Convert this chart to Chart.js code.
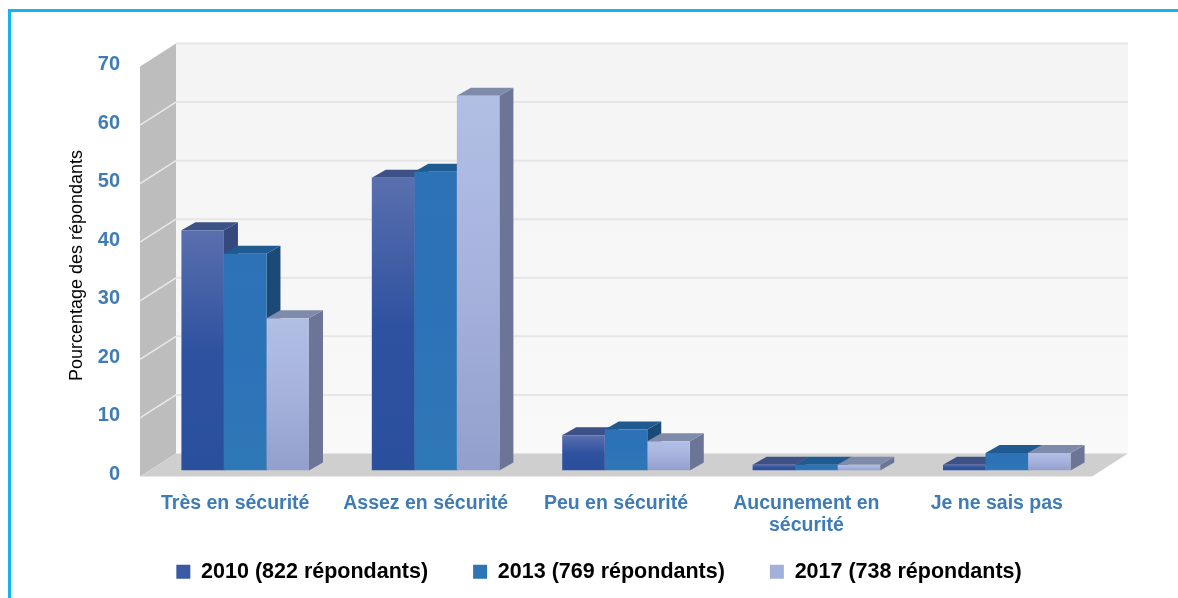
<!DOCTYPE html>
<html lang="fr">
<head>
<meta charset="UTF-8">
<title>Pourcentage des répondants</title>
<script src="https://cdn.jsdelivr.net/npm/chart.js@4.4.0/dist/chart.umd.min.js"></script>
<style>
html,body{margin:0;padding:0;background:#fff;overflow:hidden}
#frame{position:absolute;left:8px;top:9px;width:1168px;height:600px;border-top:3px solid #12b4f2;border-left:3px solid #12b4f2;border-right:1px solid #e4e4e4}
#chart{position:absolute;left:0;top:0}
</style>
</head>
<body>
<div id="frame"></div>
<canvas id="chart" width="1178" height="598"></canvas>

<script>
const categories = ['Très en sécurité','Assez en sécurité','Peu en sécurité',['Aucunement en','sécurité'],'Je ne sais pas'];
const labels2010 = '2010 (822 répondants)';
const labels2013 = '2013 (769 répondants)';
const labels2017 = '2017 (738 répondants)';
const values2010 = [41,50,6,1,1];
const values2013 = [37,51,7,1,3];
const values2017 = [26,64,5,1,3];
const yMax = 70;
const yStep = 10;

/* couleurs: haut/bas de la face avant, dessus, côté, légende */
const styles = [
  {top:'#5a6fae',mid:'#2f52a0',bot:'#2a4f9c',cap:'#3d5186',side:'#36497f',key:'#3a5aa6'},
  {top:'#2e72b6',mid:'#2c72b8',bot:'#2f78b6',cap:'#1f5a90',side:'#1c4a78',key:'#2e75b6'},
  {top:'#b2bfe4',mid:'#a6b2dc',bot:'#929fcc',cap:'#7f8bab',side:'#6c7596',key:'#a3b0dc'}
];

function frontFill(i){
  return c=>{
    if(c.raw===undefined) return styles[i].mid;
    const y = c.chart.scales.y;
    const g = c.chart.ctx.createLinearGradient(0,y.getPixelForValue(c.raw),0,y.getPixelForValue(0));
    g.addColorStop(0,styles[i].top);
    g.addColorStop(.5,styles[i].mid);
    g.addColorStop(1,styles[i].bot);
    return g;
  };
}

function poly(ctx,pts,fill){
  ctx.beginPath();
  pts.forEach((p,i)=>i?ctx.lineTo(p[0],p[1]):ctx.moveTo(p[0],p[1]));
  ctx.closePath();
  ctx.fillStyle=fill;
  ctx.fill();
}

/* murs, sol et faces 3D des barres, dessinés avant les faces avant */
const depth3d = {
  id:'depth3d',
  afterLayout(chart){
    /* la légende est centrée sur 599 dans l'original, pas sur la zone du graphique */
    const lg = chart.legend, h = lg.bottom-lg.top;
    lg.left = 20;
    lg.right = 1178;
    lg.top = 516;
    lg.bottom = 516+h;
  },
  beforeDatasetsDraw(chart){
    const {ctx,scales:{y},chartArea:a} = chart;
    const wallL = a.left-10, wallB = a.left+26;
    const wallR = wallB+952, floorR = wallL+952;
    const backOff = -17, frontOff = 6;
    const y0 = y.getPixelForValue(0), yTop = y.getPixelForValue(yMax);

    ctx.save();
    const gw = ctx.createLinearGradient(0,yTop,0,y0);
    gw.addColorStop(0,'#f4f4f4');
    gw.addColorStop(1,'#f9f9f9');
    poly(ctx,[[wallB,yTop+backOff],[wallR,yTop+backOff],[wallR,y0+backOff],[wallB,y0+backOff]],gw);
    poly(ctx,[[wallL,yTop+frontOff],[wallB,yTop+backOff],[wallB,y0+backOff],[wallL,y0+frontOff]],'#bdbdbd');
    poly(ctx,[[wallL,y0+frontOff],[wallB,y0+backOff],[wallR,y0+backOff],[floorR,y0+frontOff]],'#cfcfcf');

    y.ticks.forEach(t=>{
      const py = y.getPixelForValue(t.value);
      if(t.value>0){
        ctx.strokeStyle='#e6e6e6';ctx.lineWidth=2;
        ctx.beginPath();ctx.moveTo(wallB,py+backOff);ctx.lineTo(wallR,py+backOff);ctx.stroke();
      }
      if(t.value>0 && t.value<yMax){
        ctx.strokeStyle='#e9e9e9';ctx.lineWidth=1.5;
        ctx.beginPath();ctx.moveTo(wallL,py+frontOff);ctx.lineTo(wallB,py+backOff);ctx.stroke();
      }
    });

    const dx=14, dy=8;
    chart.data.datasets.forEach((ds,i)=>{
      chart.getDatasetMeta(i).data.forEach(b=>{
        const l=b.x-b.width/2, r=b.x+b.width/2;
        poly(ctx,[[r,b.y],[r+dx,b.y-dy],[r+dx,b.base-dy],[r,b.base]],styles[i].side);
        poly(ctx,[[l,b.y],[l+dx,b.y-dy],[r+dx,b.y-dy],[r,b.y]],styles[i].cap);
      });
    });
    ctx.restore();
  }
};

new Chart(document.getElementById('chart'),{
  type:'bar',
  data:{
    labels:categories,
    datasets:[
      {label:labels2010,data:values2010,backgroundColor:frontFill(0)},
      {label:labels2013,data:values2013,backgroundColor:frontFill(1)},
      {label:labels2017,data:values2017,backgroundColor:frontFill(2)}
    ]
  },
  options:{
    responsive:false,
    animation:false,
    categoryPercentage:.67,
    barPercentage:1,
    layout:{padding:{top:60.5,right:76,bottom:-15,left:0}},
    scales:{
      x:{
        grid:{display:false},
        border:{display:false},
        afterFit:s=>{s.height=66},
        ticks:{
          color:'#3f7cb5',
          font:{family:'"Liberation Sans",Arial,sans-serif',size:19.5,weight:'bold',lineHeight:1.12},
          padding:14,
          labelOffset:-10,
          maxRotation:0,
          autoSkip:false
        }
      },
      y:{
        min:0,max:yMax,
        grid:{display:false},
        border:{display:false},
        afterFit:s=>{s.width=150},
        title:{
          display:true,
          text:'Pourcentage des répondants',
          color:'#000',
          font:{family:'"Liberation Sans",sans-serif',size:18},
          padding:{top:66,bottom:0}
        },
        ticks:{
          stepSize:yStep,
          color:'#3f7cb5',
          font:{family:'"Liberation Sans",Arial,sans-serif',size:20,weight:'bold'},
          padding:22,
          labelOffset:4
        }
      }
    },
    plugins:{
      tooltip:{enabled:false},
      legend:{
        position:'bottom',
        labels:{
          color:'#000',
          boxWidth:14,
          boxHeight:14,
          padding:45,
          font:{family:'"Liberation Sans",Arial,sans-serif',size:21.5,weight:'bold'},
          generateLabels:chart=>chart.data.datasets.map((ds,i)=>({
            text:ds.label,fillStyle:styles[i].key,strokeStyle:styles[i].key,lineWidth:0,datasetIndex:i
          }))
        }
      }
    }
  },
  plugins:[depth3d]
});
</script>
</body>
</html>
